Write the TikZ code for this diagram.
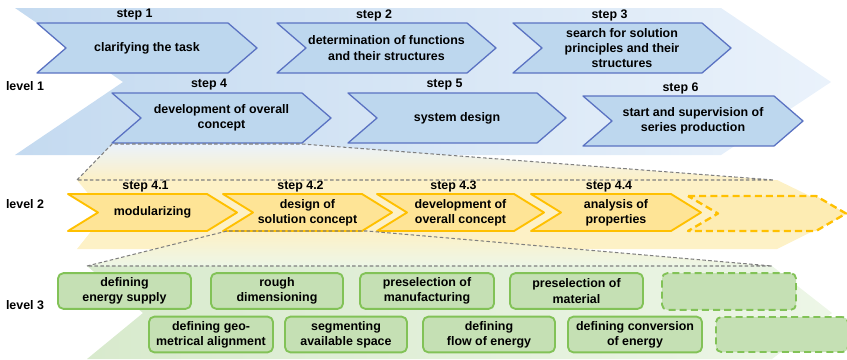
\documentclass[tikz,border=0pt]{standalone}
\usepackage{fontspec}
\setmainfont{Liberation Sans}
\definecolor{bgblueA}{HTML}{C4DAF0}
\definecolor{bgblueB}{HTML}{EAF2FB}
\definecolor{stepblue}{HTML}{BDD7EE}
\definecolor{lineblue}{HTML}{5A72C2}
\definecolor{bgyellow}{HTML}{FDF1C6}
\definecolor{stepyellow}{HTML}{FEE496}
\definecolor{lineyellow}{HTML}{FFC000}
\definecolor{bggreenA}{HTML}{D8EACD}
\definecolor{bggreenB}{HTML}{EDF6E7}
\definecolor{boxgreen}{HTML}{C5E0B4}
\definecolor{linegreen}{HTML}{82C257}
\definecolor{zoomgray}{HTML}{7F7F7F}
\begin{document}
\begin{tikzpicture}[x=0.03cm, y=-0.03cm, line join=round, line cap=round]
\tikzset{every node/.style={font=\fontsize{10.6}{13}\selectfont\bfseries, align=center, inner sep=0pt},
  bluestep/.style={fill=stepblue, draw=lineblue, line width=1.1pt},
  yellowstep/.style={fill=stepyellow, draw=lineyellow, line width=1.6pt},
  greenbox/.style={fill=boxgreen, draw=linegreen, line width=1.6pt, rounded corners=4.5pt},
  openbox/.style={dash pattern=on 6pt off 3.5pt, line cap=butt},
  zoomline/.style={draw=zoomgray, line width=0.9pt, dash pattern=on 3pt off 2pt, line cap=butt}}
\useasboundingbox (0,0) rectangle (847,359);
% level backgrounds
\shade[left color=bgblueA, right color=bgblueB] (15,8)--(721,8)--(831,82)--(721,155)--(15,155)--(123,82)--cycle;
\fill[bgyellow] (77,180)--(777,180)--(847,214)--(777,249)--(77,249)--(105,214)--cycle;
\shade[left color=bggreenA, right color=bggreenB] (87,266)--(772,266)--(832,313)--(772,359)--(87,359)--(143,313)--cycle;
% zoom areas
\coordinate (za) at (112,144); \coordinate (zb) at (302,144);
\coordinate (zc) at (774,180); \coordinate (zd) at (77,180);
\coordinate (ze) at (227,231); \coordinate (zf) at (367,231);
\coordinate (zg) at (772,266); \coordinate (zh) at (87,266);
\shade[top color=bgblueB, bottom color=bgyellow] (za)--(zb)--(zc)--(zd)--cycle;
\shade[top color=bgyellow, bottom color=bggreenB] (ze)--(zf)--(zg)--(zh)--cycle;
% level 1
\foreach \n/\L/\T/\R/\txt in {1/37/23/228/{clarifying the task},
    2/277/23/467/{determination of functions\\and their structures},
    3/513/23/702/{search for solution\\principles and their\\structures},
    4/112/93/302/{development of overall\\concept},
    5/348/93/537/{system design},
    6/583/96/774/{start and supervision of\\series production}}{
  \draw[bluestep] (\L,\T)--(\R,\T)--({\R+29},{\T+25})--(\R,{\T+50})--(\L,{\T+50})--({\L+29},{\T+25})--cycle;
  \node (s\n) at ({(\L+29+\R)/2},{\T+25}) {\txt};
  \node (l\n) at ({(\L+\R)/2+2},{\T-8}) {step \n};
}
% level 2
\draw[yellowstep, fill=bgyellow!60!stepyellow, openbox, line width=2pt] (688,196)--(816,196)--(846,213.5)--(816,231)--(688,231)--(718,213.5)--cycle;
\foreach \n/\L/\R/\txt in {4.1/68/207/{modularizing},
    4.2/223/362/{design of\\solution concept},
    4.3/377/514/{development of\\overall concept},
    4.4/531/671/{analysis of\\properties}}{
  \draw[yellowstep] (\L,194)--(\R,194)--({\R+30},212.5)--(\R,231)--(\L,231)--({\L+30},212.5)--cycle;
  \node (s\n) at ({(\L+30+\R)/2},212.5) {\txt};
  \node (l\n) at ({(\L+\R)/2+8},186.5) {step \n};
}
% level 3
\foreach \nm/\cx/\cy/\w/\txt in {b1/124.5/291/133/{defining\\energy supply},
    b2/277/291/132/{rough\\dimensioning},
    b3/427/291/134/{preselection of\\manufacturing},
    b4/576.5/291/133/{preselection of\\material},
    b6/211/334.5/124/{defining geo-\\metrical alignment},
    b7/346/334.5/122/{segmenting\\available space},
    b8/489/334.5/132/{defining\\flow of energy},
    b9/635/334.5/134/{defining conversion\\of energy}}{
  \node[greenbox, minimum width=\w*0.03cm, minimum height=1.07cm] (\nm) at (\cx,\cy) {\txt};
}
\node[greenbox, openbox, minimum width=4.02cm, minimum height=1.1cm] (b5) at (729,291.5) {};
\node[greenbox, openbox, minimum width=3.96cm, minimum height=1.05cm] (b10) at (782,334.5) {};
% zoom lines
\draw[zoomline] (zd)--(za)--(zb)--(zc)--(zd);
\draw[zoomline] (zh)--(ze)--(zf)--(zg)--(zh);
% level labels
\node (lev1) at (25,86) {level 1};
\node (lev2) at (25,204) {level 2};
\node (lev3) at (25,305) {level 3};
\end{tikzpicture}
\end{document}
